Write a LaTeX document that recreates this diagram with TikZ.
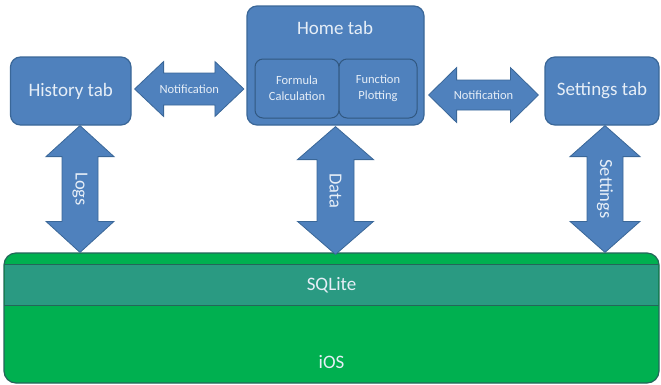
\documentclass[tikz,border=0pt]{standalone}
\usepackage{fontspec}
\setmainfont{Carlito}
\usetikzlibrary{calc}
\definecolor{bluefill}{HTML}{4F81BD}
\definecolor{blueedge}{HTML}{3A6798}
\definecolor{txtc}{HTML}{E6EEF7}
\definecolor{greenfill}{HTML}{00B050}
\definecolor{bandfill}{HTML}{2A9A82}
\definecolor{greenedge}{HTML}{24665A}
\newcommand\hdarrow[5]{%
  \path[blockarrow] let \p1=(#1), \p2=(#2) in
    (\x1,\y1) -- (\x1+#3pt,\y1+#5pt) -- (\x1+#3pt,\y1+#4pt) -- (\x2-#3pt,\y1+#4pt)
    -- (\x2-#3pt,\y1+#5pt) -- (\x2,\y1) -- (\x2-#3pt,\y1-#5pt) -- (\x2-#3pt,\y1-#4pt)
    -- (\x1+#3pt,\y1-#4pt) -- (\x1+#3pt,\y1-#5pt) -- cycle;}
\newcommand\vdarrow[5]{%
  \path[blockarrow] let \p1=(#1), \p2=(#2) in
    (\x1,\y1) -- (\x1+#5pt,\y1-#3pt) -- (\x1+#4pt,\y1-#3pt) -- (\x1+#4pt,\y2+#3pt)
    -- (\x1+#5pt,\y2+#3pt) -- (\x1,\y2) -- (\x1-#5pt,\y2+#3pt) -- (\x1-#4pt,\y2+#3pt)
    -- (\x1-#4pt,\y1-#3pt) -- (\x1-#5pt,\y1-#3pt) -- cycle;}
\begin{document}
\begin{tikzpicture}[x=1pt,y=-1pt,
  tab/.style={draw=blueedge, line width=1.2pt, fill=bluefill, rounded corners=10pt,
    inner sep=0pt, text=txtc, font=\fontsize{19}{22}\selectfont},
  inner/.style={draw=blueedge!85!black, line width=1pt, fill=bluefill, rounded corners=8pt,
    inner sep=0pt, text=txtc, align=center, font=\fontsize{12.5}{16}\selectfont},
  blockarrow/.style={fill=bluefill, draw=blueedge, line width=0.8pt, line join=miter},
  notif/.style={text=txtc, inner sep=0pt, font=\fontsize{12.5}{15}\selectfont},
  vlab/.style={text=txtc, inner sep=0pt, font=\fontsize{18.5}{22}\selectfont},
  bandtxt/.style={text=txtc, inner sep=0pt, font=\fontsize{19}{22}\selectfont}]
\useasboundingbox (0,0) rectangle (661,384);
% top boxes
\node[tab, minimum width=177pt, minimum height=119pt] (home) at (335.5,65.5) {};
\node[text=txtc, inner sep=0pt, font=\fontsize{19}{22}\selectfont] (hometitle) at (335,28) {Home tab};
\node[inner, minimum width=84pt, minimum height=59pt] (formula) at (297,88.5) {Formula\\Calculation};
\node[inner, minimum width=78pt, minimum height=59pt] (function) at (378,88.5) {Function\\Plotting};
\node[tab, minimum width=120.5pt, minimum height=68pt] (hist) at (70.75,91) {History tab};
\node[tab, minimum width=114pt, minimum height=68pt] (set) at (602,91) {Settings tab};
% bottom layers
\node[draw=greenedge, line width=1.2pt, fill=greenfill, rounded corners=12pt,
  minimum width=655pt, minimum height=130pt, inner sep=0pt] (ios) at (331.5,318) {};
\node[fill=bandfill, minimum width=653.8pt, minimum height=40pt, inner sep=0pt] (sqlite) at (331.5,285) {};
\draw[greenedge, line width=1pt] (sqlite.north west) -- (sqlite.north east);
\draw[greenedge, line width=1pt] (sqlite.south west) -- (sqlite.south east);
\node[bandtxt] (sqltext) at (sqlite.center) {SQLite};
\node[bandtxt] (iostext) at (331.5,362) {iOS};
% horizontal arrows
\coordinate (n1L) at ($(hist.east |- 0,89)+(3,0)$);
\coordinate (n1R) at ($(home.west |- 0,89)+(-2.5,0)$);
\coordinate (n2L) at ($(home.east |- 0,95)+(4,0)$);
\coordinate (n2R) at ($(set.west |- 0,95)+(-6,0)$);
\hdarrow{n1L}{n1R}{29}{16}{27.5}
\hdarrow{n2L}{n2R}{28}{15}{27.5}
\node[notif] (n1lab) at ($(n1L)!0.5!(n1R)$) {Notification};
\node[notif] (n2lab) at ($(n2L)!0.5!(n2R)$) {Notification};
% vertical arrows
\coordinate (logsT) at (hist.south -| 80,0);
\coordinate (logsB) at (ios.north -| 80,0);
\coordinate (dataT) at ($(home.south)+(0,1)$);
\coordinate (dataB) at ($(home.south |- ios.north)+(0,2)$);
\coordinate (setT) at (set.south -| 605,0);
\coordinate (setB) at (ios.north -| 605,0);
\vdarrow{logsT}{logsB}{31}{18}{34}
\vdarrow{dataT}{dataB}{33}{18.5}{38}
\vdarrow{setT}{setB}{31}{18}{35}
\node[vlab, rotate=-90] (logslab) at ($(logsT)!0.5!(logsB)$) {Logs};
\node[vlab, rotate=-90] (datalab) at ($(dataT)!0.5!(dataB)$) {Data};
\node[vlab, rotate=-90] (setlab) at ($(setT)!0.5!(setB)$) {Settings};
\end{tikzpicture}
\end{document}
